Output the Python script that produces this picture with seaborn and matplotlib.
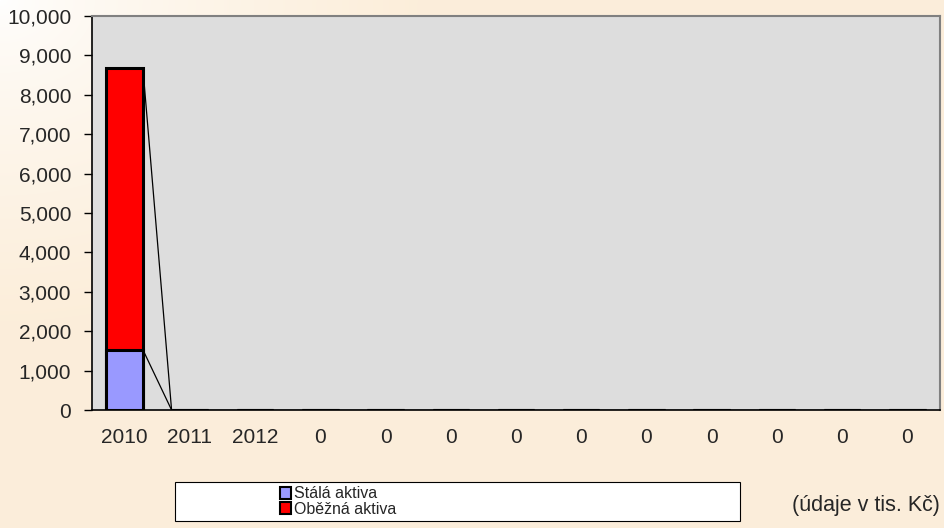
import numpy as np
import pandas as pd
import matplotlib
matplotlib.use("Agg")
import matplotlib.pyplot as plt
from matplotlib.patches import Patch, Rectangle
import seaborn as sns

# Data (tis. Kc)
years = ["2010", "2011", "2012", "0", "0", "0", "0", "0", "0", "0", "0", "0", "0"]
stala = [1530, 0, 0, 0, 0, 0, 0, 0, 0, 0, 0, 0, 0]
obezna = [7150, 0, 0, 0, 0, 0, 0, 0, 0, 0, 0, 0, 0]

sns.set_style("white")
plt.rcParams["font.family"] = ["Liberation Sans", "DejaVu Sans"]

df = pd.DataFrame({"pos": np.arange(len(years)), "stala": stala, "obezna": obezna})
df["total"] = df["stala"] + df["obezna"]

fig = plt.figure(figsize=(9.44, 5.28), dpi=100)

# background gradient (white in the top-left corner fading to peach)
bg = fig.add_axes([0, 0, 1, 1], zorder=-10)
H, W = 528, 944
yy, xx = np.mgrid[0:H, 0:W]
t = np.clip(np.hypot(xx, yy * 1.3) / 420.0, 0, 1) ** 0.7
white = np.array([1.0, 1.0, 1.0])
peach = np.array([0.988, 0.933, 0.855])
img = white[None, None, :] * (1 - t[..., None]) + peach[None, None, :] * t[..., None]
bg.imshow(img, aspect="auto", extent=[0, 1, 0, 1])
bg.axis("off")

ax = fig.add_axes([92 / 944, 1 - 410 / 528, 848 / 944, 394 / 528])
ax.set_facecolor("#DDDDDD")

bw = 0.56
sns.barplot(data=df, x="pos", y="total", color="#FF0000", width=bw,
            edgecolor="black", linewidth=2.2, saturation=1, ax=ax, zorder=3)
sns.barplot(data=df, x="pos", y="stala", color="#9999FF", width=bw,
            edgecolor="black", linewidth=2.2, saturation=1, ax=ax, zorder=4)

# series lines between bar tops
for series in [df["stala"].values, df["total"].values]:
    for i in range(len(series) - 1):
        ax.plot([i + bw / 2, i + 1 - bw / 2], [series[i], series[i + 1]],
                color="black", lw=0.9, zorder=5)

ax.set_xlim(-0.5, len(years) - 0.5)
ax.set_ylim(0, 10000)
ax.set_yticks(np.arange(0, 10001, 1000))
ax.set_yticklabels([f"{v:,}" for v in range(0, 10001, 1000)])
ax.set_xticks(np.arange(-0.5, len(years), 1.0))
ax.set_xticklabels([])
ax.set_xticks(np.arange(len(years)), minor=True)
ax.set_xticklabels(years, minor=True)
ax.tick_params(axis="x", which="major", direction="inout", length=12, width=1, color="black")
ax.tick_params(axis="x", which="minor", length=0, labelsize=15, pad=13)
ax.tick_params(axis="y", direction="out", length=6, width=1, color="black",
               labelsize=15, pad=9, left=True)
ax.set_xlabel("")
ax.set_ylabel("")
for s in ["left", "bottom"]:
    ax.spines[s].set_color("black")
    ax.spines[s].set_linewidth(1.2)
for s in ["top", "right"]:
    ax.spines[s].set_color("#808080")
    ax.spines[s].set_linewidth(1.5)

# legend box
fig.patches.append(Rectangle((175 / 944, 7 / 528), 565 / 944, 39 / 528,
                             transform=fig.transFigure, facecolor="white",
                             edgecolor="black", lw=0.8, zorder=1))
handles = [Patch(facecolor="#9999FF", edgecolor="black", lw=1.5, label="Stálá aktiva"),
           Patch(facecolor="#FF0000", edgecolor="black", lw=1.5, label="Oběžná aktiva")]
fig.legend(handles=handles, loc="center left", bbox_to_anchor=(280 / 944, 26.5 / 528),
           frameon=False, fontsize=11.5, handlelength=0.7, handleheight=0.7,
           handletextpad=0.2, labelspacing=0.0, borderpad=0, borderaxespad=0)

fig.text(940 / 944, 22 / 528, "(údaje v tis. Kč)", ha="right", va="center", fontsize=15.5)

fig.savefig("out.png", dpi=100)
